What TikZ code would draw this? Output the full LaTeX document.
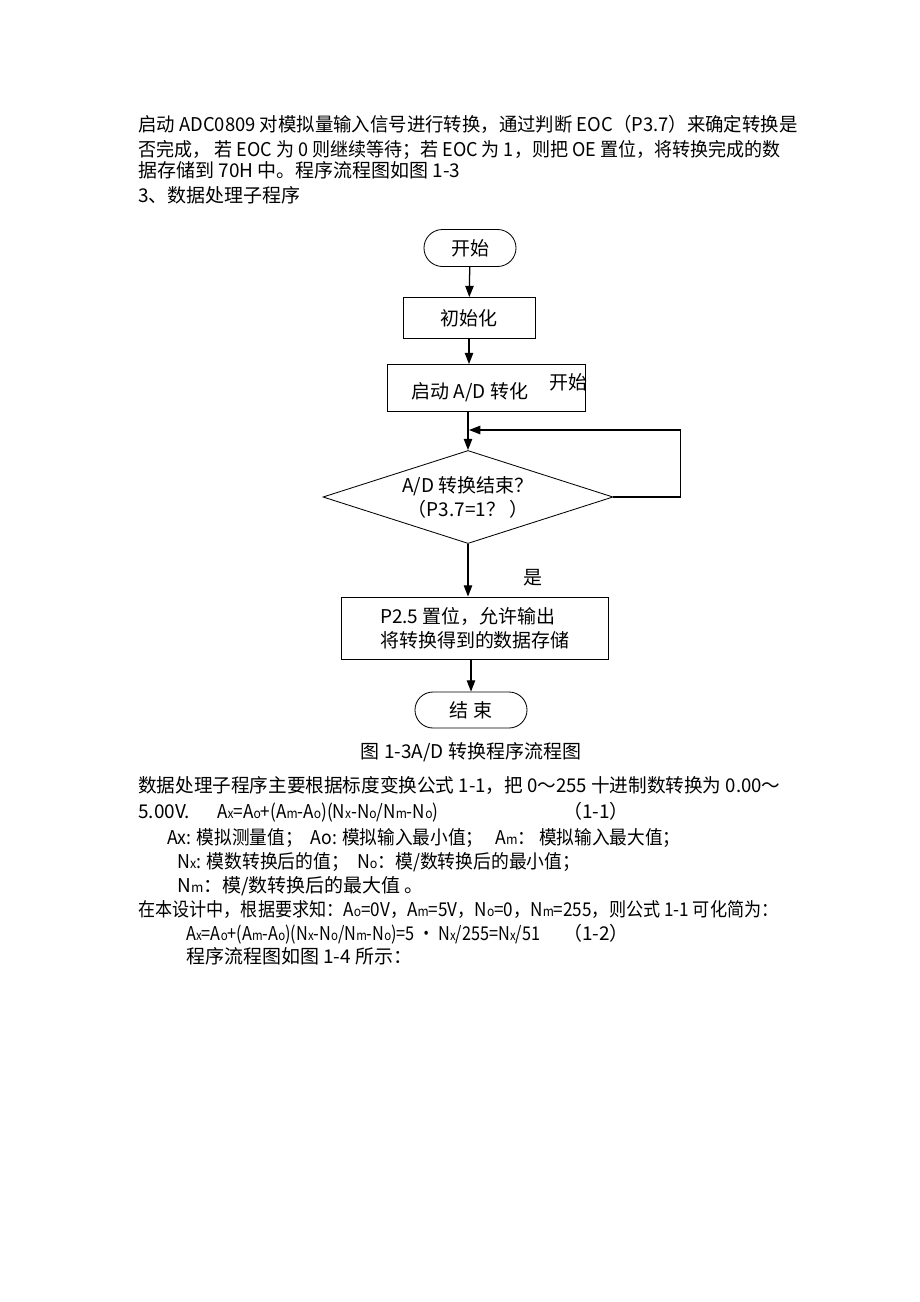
\documentclass[tikz,border=0pt]{standalone}
\usepackage{fontspec}
\setmainfont{Noto Sans CJK SC}
\usepackage{graphicx}
\usepackage{tikz}
\usetikzlibrary{shapes.geometric, shapes.misc, arrows.meta, positioning}

\newcommand{\subl}[1]{{\fontsize{9.5}{9.5}\selectfont #1}}
\newcommand{\fitline}[2]{\resizebox{#1}{\height}{#2}}

\begin{document}
\begin{tikzpicture}[
  x=0.025cm, y=-0.025cm,
  every node/.style={font=\fontsize{13.5}{17}\selectfont, inner sep=0pt},
  txt/.style={anchor=base west},
  term/.style={draw, rounded rectangle, line width=0.6pt},
  box/.style={draw, rectangle, line width=0.6pt},
  test/.style={draw, diamond, aspect=3.12, line width=0.6pt, align=center},
  arr/.style={line width=0.9pt, -{Triangle[length=8pt,width=6pt]}}
]
\useasboundingbox[fill=white] (0,0) rectangle (920,1302);

\node[txt] (p1) at (138,131) {\fitline{16.475cm}{启动 ADC0809 对模拟量输入信号进行转换，通过判断 EOC（P3.7）来确定转换是}};
\node[txt] (p2) at (138,156) {\fitline{16.05cm}{否完成， 若 EOC 为 0 则继续等待；若 EOC 为 1，则把 OE 置位，将转换完成的数}};
\node[txt] (p3) at (138,177) {据存储到 70H 中。程序流程图如图 1-3};
\node[txt] (p4) at (138,202) {3、数据处理子程序};

\node[term, minimum width=2.3cm, minimum height=0.925cm] (start) at (470,248) {开始};
\node[box, minimum width=3.3cm, minimum height=1.025cm] (init) at (469,318) {初始化};
\node[box, minimum width=4.95cm, minimum height=1.175cm] (adc) at (486,388) {};
\node (adctext) at (470,392) {启动 A/D 转化};
\node (adcnote) at (568,382) {开始};
\node[test, minimum width=7.25cm, minimum height=2.325cm] (dec) at (468,497) {A/D 转换结束？\\（P3.7=1？ ）};
\node (yes) at (533,578) {是};
\node[box, minimum width=6.675cm, minimum height=1.55cm, align=left] (out) at (475,628) {P2.5 置位，允许输出\\将转换得到的数据存储};
\node[term, minimum width=2.8cm, minimum height=0.9cm] (end) at (471,710) {结\ 束};
\node (cap) at (471,752) {图 1-3A/D 转换程序流程图};

\coordinate (join) at (469,430);
\draw[arr] (start) -- (init);
\draw[arr] (init) -- (init |- adc.north);
\draw[arr] (adc.south -| dec.north) -- (dec.north);
\draw[arr] (dec.east) -- ++(67,0) |- (join);
\draw[arr] (dec.south) -- (dec.south |- out.north);
\draw[arr] (out.south -| end.north) -- (end.north);

\node[txt] (q1) at (138,792) {\fitline{16.05cm}{数据处理子程序主要根据标度变换公式 1-1，把 0～255 十进制数转换为 0.00～}};
\node[txt] (q2) at (138,818) {5.00V.};
\node[txt] (q2f) at (217,818) {\fitline{5.525cm}{A\subl{x}=A\subl{o}+(A\subl{m}-A\subl{o})(N\subl{x}-N\subl{o}/N\subl{m}-N\subl{o})}};
\node[txt] (q2n) at (563,818) {（1-1）};
\node[txt] (q3) at (167,844) {\fitline{12.825cm}{Ax: 模拟测量值；\ \ Ao: 模拟输入最小值；\ \ \ A\subl{m}：\ 模拟输入最大值；}};
\node[txt] (q4) at (177,868) {\fitline{10.075cm}{N\subl{x}: 模数转换后的值；\ \ N\subl{o}：模/数转换后的最小值；}};
\node[txt] (q5) at (177,892) {N\subl{m}：模/数转换后的最大值 。};
\node[txt] (q6) at (138,916) {\fitline{16.0cm}{在本设计中，根据要求知：A\subl{o}=0V，A\subl{m}=5V，N\subl{o}=0，N\subl{m}=255，则公式 1-1 可化简为：}};
\node[txt] (q7) at (186,940) {\fitline{8.85cm}{A\subl{x}=A\subl{o}+(A\subl{m}-A\subl{o})(N\subl{x}-N\subl{o}/N\subl{m}-N\subl{o})=5 • N\subl{x}/255=N\subl{x}/51}};
\node[txt] (q7n) at (563,940) {（1-2）};
\node[txt] (q8) at (186,963) {程序流程图如图 1-4 所示：};
\end{tikzpicture}
\end{document}
